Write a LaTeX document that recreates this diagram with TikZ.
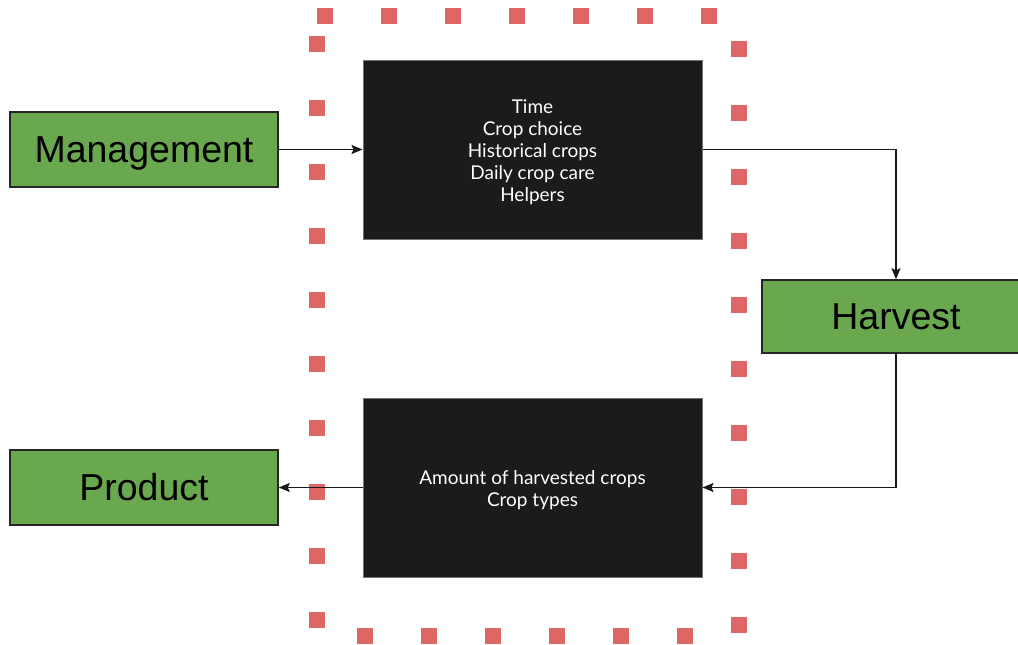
\documentclass[tikz,border=0pt]{standalone}
\usepackage{fontspec}
\setmainfont{Liberation Sans}
\newfontfamily\latofont{Lato}
\usetikzlibrary{arrows.meta}
\definecolor{boxgreen}{HTML}{6AA84F}
\definecolor{dotred}{HTML}{E06666}
\definecolor{darkbox}{HTML}{1B1B1B}
\newcommand{\boxlines}[1]{\raisebox{-4pt}[\height][\depth]{\setlength{\tabcolsep}{0pt}\begin{tabular}{c}#1\end{tabular}}}
\begin{document}
\begin{tikzpicture}[x=1pt,y=-1pt,
  greenbox/.style={draw=black!85, line width=1.5pt, fill=boxgreen, minimum width=268pt, minimum height=75pt, inner sep=0pt, text height=26.2pt, text depth=0pt, font=\fontsize{37.5}{40}\selectfont},
  darkbox/.style={draw=black!55, line width=1pt, fill=darkbox, text=white, minimum width=339pt, minimum height=179pt, inner sep=0pt, align=center, font=\latofont\fontsize{19}{22}\selectfont},
  conn/.style={draw=black!90, line width=1.5pt, -{Stealth[length=11pt,width=9pt,inset=2pt]}},
  dot/.style={fill=dotred, draw=none}
]
\useasboundingbox (0,0) rectangle (1018,645);
% dotted border
\foreach \x in {325,389,...,709} \fill[dot] (\x-8,8) rectangle (\x+8,24);
\foreach \y in {44,108,...,620} \fill[dot] (309,\y-8) rectangle (325,\y+8);
\foreach \y in {49,113,...,625} \fill[dot] (731,\y-8) rectangle (747,\y+8);
\foreach \x in {365,429,...,685} \fill[dot] (\x-8,628) rectangle (\x+8,644);
% nodes
\node[greenbox] (mg) at (144,149.5) {Management};
\node[greenbox] (pr) at (144,487.5) {Product};
\node[greenbox, minimum height=73pt] (hv) at (896,316.5) {Harvest};
\node[darkbox] (tb) at (532.5,149.5) {\boxlines{Time\\Crop choice\\Historical crops\\Daily crop care\\Helpers}};
\node[darkbox] (bb) at (532.5,487.5) {\boxlines{Amount of harvested crops\\Crop types}};
% connectors
\draw[conn] (mg.east) -- (tb.west);
\draw[conn] (tb.east) -| (hv.north);
\draw[conn] (hv.south) |- (bb.east);
\draw[conn] (bb.west) -- (pr.east);
\end{tikzpicture}
\end{document}
